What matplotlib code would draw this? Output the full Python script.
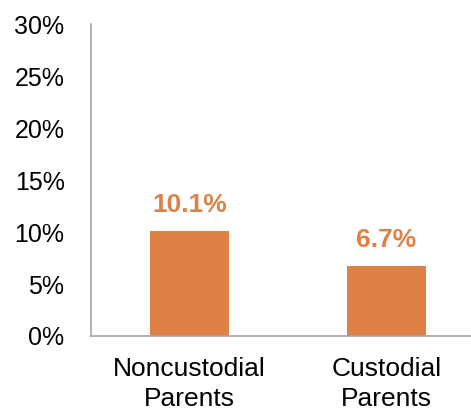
import matplotlib.pyplot as plt

# Datos del gráfico
categorias = ["Noncustodial\nParents", "Custodial\nParents"]
valores = [10.1, 6.7]
etiquetas = ["10.1%", "6.7%"]
ticks_y = [0, 5, 10, 15, 20, 25, 30]

naranja = "#DF8147"
gris = "#A6A6A6"

plt.rcParams['font.family'] = ['Liberation Sans', 'DejaVu Sans']

fig = plt.figure(figsize=(4.71, 4.11), dpi=100)
ax = fig.add_axes([0.193, 0.1825, 0.807, 0.759])

x = list(range(len(categorias)))
ax.bar(x, valores, width=0.4, color=naranja)

for xi, v, t in zip(x, valores, etiquetas):
    ax.annotate(t, (xi, v), xytext=(0, 10), textcoords="offset points",
                ha="center", va="bottom", fontsize=19, fontweight="bold",
                color=naranja)

ax.set_xlim(-0.5, 1.43)
ax.set_ylim(0, 30)
ax.set_yticks(ticks_y)
ax.set_yticklabels([f"{t}%" for t in ticks_y])
ax.set_xticks(x)
ax.set_xticklabels(categorias, linespacing=1.3)

ax.tick_params(axis="y", length=0, pad=19, labelsize=18)
ax.tick_params(axis="x", length=0, pad=15, labelsize=19)

for s in ["top", "right"]:
    ax.spines[s].set_visible(False)
for s in ["left", "bottom"]:
    ax.spines[s].set_color(gris)
    ax.spines[s].set_linewidth(1.2)

fig.savefig("out.png", dpi=100)
